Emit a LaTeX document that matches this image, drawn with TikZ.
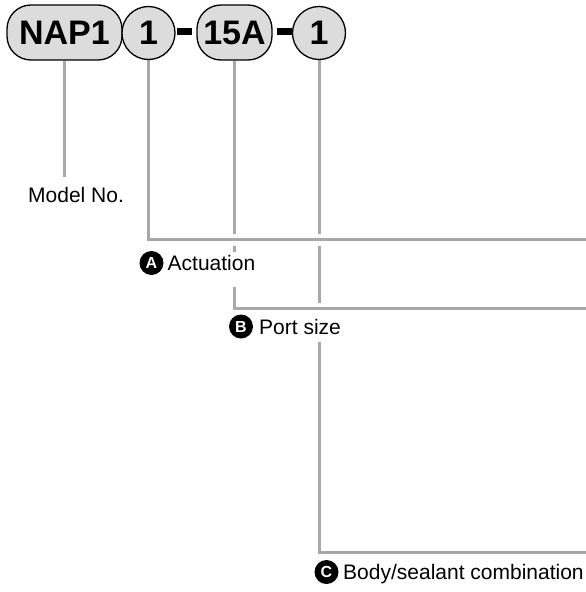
\documentclass[tikz,border=0pt]{standalone}
\usepackage{fontspec}
\setmainfont{Liberation Sans}
\usetikzlibrary{backgrounds}
\definecolor{pillfill}{HTML}{DCDCDC}
\definecolor{leadergray}{HTML}{A8A8A8}
\begin{document}
\begin{tikzpicture}[x=1pt,y=-1pt,
  pill/.style={draw=black, line width=1.3pt, fill=pillfill, rounded corners=24pt,
    minimum height=55pt, inner sep=0pt, font=\fontsize{34}{34}\selectfont\bfseries},
  disc/.style={draw=black, line width=1.3pt, fill=pillfill, circle, minimum size=53pt,
    inner sep=0pt, font=\fontsize{34}{34}\selectfont\bfseries},
  hyph/.style={fill=black, minimum width=15pt, minimum height=6.5pt, inner sep=0pt},
  leader/.style={draw=leadergray, line width=3pt, preaction={draw=white, line width=12pt}},
  plainleader/.style={draw=leadergray, line width=3pt},
  badge/.style={circle, fill=black, minimum size=24pt, inner sep=0pt, text=white,
    font=\fontsize{16}{16}\selectfont\bfseries},
  lbl/.style={font=\fontsize{21}{21}\selectfont, inner sep=0pt, anchor=base west, fill=white}
]
\useasboundingbox (0,0) rectangle (586,592);

% code boxes
\node[pill, minimum width=115pt] (nap) at (64.5,32.5) {NAP1};
\node[disc] (one) at (148.5,33) {1};
\node[hyph] (h1) at (184.5,31.7) {};
\node[pill, minimum width=75pt] (fift) at (234.5,32.5) {15A};
\node[hyph] (h2) at (284.5,31.7) {};
\node[disc] (two) at (319,33) {1};

% labels
\node[lbl, fill=none] (model) at (28,202.5) {Model No.};
\node[badge] (ba) at (151.5,263) {A};
\node[lbl, text height=18.5pt, text depth=16.5pt] (act) at (167.5,270.5) {Actuation};
\node[badge] (bb) at (241,326.5) {B};
\node[lbl, text height=20pt, text depth=7.5pt] (port) at (259,334.5) {Port size};
\node[badge] (bc) at (326.5,572) {C};
\node[lbl] (body) at (343,579.5) {Body/sealant combination};

% free ends
\coordinate (mEnd) at (64.5,177);
\coordinate (aEnd) at (586,239.5);
\coordinate (bEnd) at (586,308.5);
\coordinate (cEnd) at (586,552.5);

\begin{scope}[on background layer]
  \draw[plainleader] (nap.south) -- (mEnd);
  \draw[leader] (two.south) |- (cEnd);
  \draw[leader] (fift.south) |- (bEnd);
  \draw[leader] (one.south) |- (aEnd);
\end{scope}
\end{tikzpicture}
\end{document}
